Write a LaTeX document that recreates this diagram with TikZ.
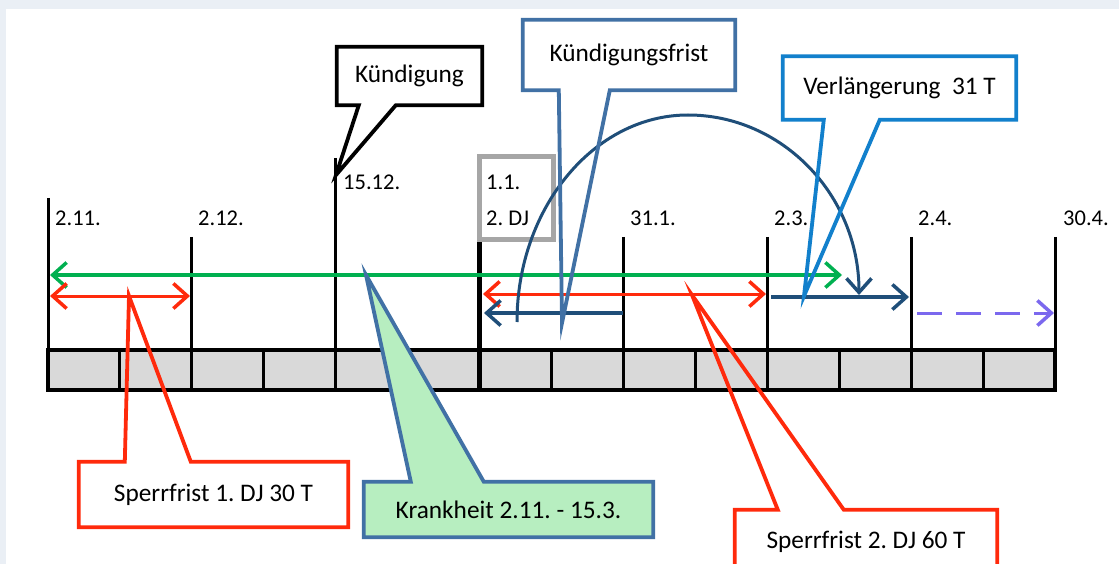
\documentclass[tikz,border=0pt]{standalone}
\usepackage{fontspec}
\setmainfont{Carlito}
\usetikzlibrary{arrows.meta,calc}
\frenchspacing

\definecolor{pagebg}{RGB}{234,239,245}
\definecolor{cellgray}{RGB}{217,217,217}
\definecolor{boxgray}{RGB}{166,166,166}
\definecolor{fristgreen}{RGB}{0,176,80}
\definecolor{sperrred}{RGB}{255,42,12}
\definecolor{navy}{RGB}{31,78,121}
\definecolor{steel}{RGB}{65,113,165}
\definecolor{brightblue}{RGB}{18,128,204}
\definecolor{sickgreen}{RGB}{183,238,192}
\definecolor{lilac}{RGB}{123,104,238}

\begin{document}
\begin{tikzpicture}[x=1pt,y=-1pt,
  tick/.style={line width=3pt,black},
  datelabel/.style={anchor=west,inner sep=0pt,font=\fontsize{22.5}{26}\selectfont},
  boxtext/.style={inner sep=0pt,font=\fontsize{25.3}{28}\selectfont},
  barb/.tip={Straight Barb[length=14pt,width=25pt,line width=3.5pt]},
  span/.style={line width=3pt,arrows={barb-barb}},
  oneway/.style={line width=3.5pt,arrows={-barb}},
  callout/.style={line width=3.8pt,line join=miter,miter limit=20}
]
\useasboundingbox (0,0) rectangle (1119,564);
\fill[pagebg] (0,0) rectangle (1119,564);
\fill[white] (6,9) rectangle (1119,564);

% time bar: fourteen half-month cells
\fill[cellgray] (48,350) rectangle (1055,390);
\foreach \i in {1,...,13}
  \draw[line width=3pt] ({48+\i*71.93},350) -- ({48+\i*71.93},390);
\draw[line width=3.5pt] (48,350) rectangle (1055,390);

% month ticks
\foreach \x/\t in {48/198, 191.86/237, 335.71/158, 623.43/237, 767.29/237, 911.14/237, 1055/237}
  \draw[tick] (\x,\t) -- (\x,390);
\draw[line width=5pt] (479.57,235) -- (479.57,390);

% date labels
\node[datelabel] (l211) at (55,218) {2.11.};
\node[datelabel] (l212) at (198,218) {2.12.};
\node[datelabel] (l1512) at (343,182) {15.12.};
\node[datelabel] (l311) at (630,218) {31.1.};
\node[datelabel] (l23) at (774,218) {2.3.};
\node[datelabel] (l24) at (918,218) {2.4.};
\node[datelabel] (l304) at (1063,218) {30.4.};
\draw[boxgray,line width=5pt] (479.5,157) rectangle (553,240);
\node[datelabel] (l11) at (486,182) {1.1.};
\node[datelabel] (l2dj) at (486,218) {2. DJ};

% period end points
\coordinate (g1) at (50,275);   \coordinate (g2) at (842,275);
\coordinate (r1a) at (50,296);  \coordinate (r1b) at (190,296);
\coordinate (r2a) at (483,294); \coordinate (r2b) at (766,294);
\coordinate (k1) at (623,313);  \coordinate (k2) at (484,313);
\coordinate (a1) at (517,322);  \coordinate (a2) at (859,295);
\coordinate (e1) at (771,297);  \coordinate (e2) at (909,297);
\coordinate (p1) at (917,313);  \coordinate (p2) at (1054,313);

% periods
\draw[span,fristgreen,line width=3.5pt] (g1) -- (g2);
\draw[span,sperrred] (r1a) -- (r1b);
\draw[span,sperrred] (r2a) -- (r2b);
\draw[oneway,navy] (k1) -- (k2);
\draw[navy,line width=3pt,arrows={-barb}] (a1) .. controls (517,208) and (594,115) .. (688,115)
  .. controls (782,115) and (859,195) .. (a2);
\draw[oneway,navy] (e1) -- (e2);
\draw[oneway,lilac,line width=3pt,dash pattern=on 25pt off 14pt] (p1) -- (p2);

% callouts
\node[boxtext,minimum width=145pt,minimum height=58pt] (kue) at (409.5,76) {Kündigung};
\coordinate (kuetip) at (336,175);
\draw[callout] (kue.north west) -- (kue.north east) -- (kue.south east)
  -- ($(kue.south west)+(59,0)$) -- (kuetip) -- ($(kue.south west)+(22,0)$)
  -- (kue.south west) -- cycle;

\node[boxtext,minimum width=212pt,minimum height=70pt] (kf) at (629,55) {Kündigungsfrist};
\coordinate (kftip) at (562,323);
\draw[callout,steel] (kf.north west) -- (kf.north east) -- (kf.south east)
  -- ($(kf.south west)+(87,0)$) -- (kftip) -- ($(kf.south west)+(36,0)$)
  -- (kf.south west) -- cycle;

\node[boxtext,minimum width=233pt,minimum height=63pt] (vl) at (899.5,88) {Verlängerung\ \ 31 T};
\coordinate (vltip) at (804,296);
\draw[callout,brightblue] (vl.north west) -- (vl.north east) -- (vl.south east)
  -- ($(vl.south west)+(97,0)$) -- (vltip) -- ($(vl.south west)+(41,0)$)
  -- (vl.south west) -- cycle;

\node[boxtext,minimum width=269pt,minimum height=65pt] (sp1) at (213.5,494.5) {};
\coordinate (sp1tip) at (129,296);
\draw[callout,sperrred] (sp1.south west) -- (sp1.north west)
  -- ($(sp1.north west)+(46,0)$) -- (sp1tip) -- ($(sp1.north west)+(112,0)$)
  -- (sp1.north east) -- (sp1.south east) -- cycle;
\node[boxtext] at (sp1.center) {Sperrfrist 1. DJ 30 T};

\node[boxtext,minimum width=289pt,minimum height=55pt] (kr) at (508.5,509.5) {};
\coordinate (krtip) at (366,275);
\filldraw[callout,steel,fill=sickgreen] (kr.south west) -- (kr.north west)
  -- ($(kr.north west)+(47,0)$) -- (krtip) -- ($(kr.north west)+(120,0)$)
  -- (kr.north east) -- (kr.south east) -- cycle;
\node[boxtext] at (kr.center) {Krankheit 2.11. - 15.3.};

\node[boxtext,minimum width=262pt,minimum height=64pt] (sp2) at (866,542) {};
\coordinate (sp2tip) at (692,295);
\draw[callout,sperrred] (sp2.south west) -- (sp2.north west)
  -- ($(sp2.north west)+(43,0)$) -- (sp2tip) -- ($(sp2.north west)+(109,0)$)
  -- (sp2.north east) -- (sp2.south east) -- cycle;
\node[boxtext] at (sp2.center) {Sperrfrist 2. DJ 60 T};
\end{tikzpicture}
\end{document}
